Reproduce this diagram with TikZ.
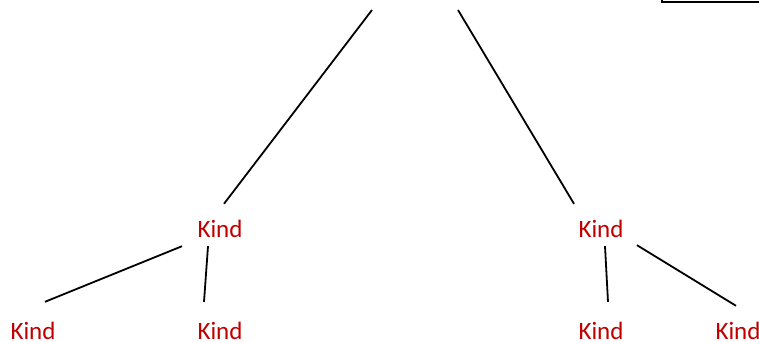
\documentclass[tikz,border=0pt]{standalone}
\usepackage{fontspec}
\setmainfont{Carlito}
\usetikzlibrary{positioning}
\definecolor{kindred}{HTML}{C00000}
\tikzset{line width=1.8pt,
  kind/.style={text=kindred,font=\fontsize{25}{30}\selectfont,inner sep=0pt,
    anchor=base,text height=33pt,text depth=9pt},
  kindleaf/.style={kind,text depth=2pt},
  branch/.style={draw=black,line width=1.8pt}}
\begin{document}
\begin{tikzpicture}[x=1pt,y=-1pt]
\useasboundingbox(0,0)rectangle(759,342);\clip(0,0)rectangle(759,342);
\coordinate(topl)at(372,10);\coordinate(topr)at(458,10);
\draw[line width=1.8pt](662,-20)rectangle(800,2);
\node[kind](kl)at(220,237){Kind};\node[kind](kr)at(601,237){Kind};
\node[kindleaf](kll)at(33,339){Kind};\node[kindleaf](klr)at(220,339){Kind};
\node[kindleaf](krl)at(601,339){Kind};\node[kindleaf](krr)at(738,339){Kind};
\draw[branch](topl)--([xshift=4pt]kl.north);\draw[branch](topr)--([xshift=-27pt]kr.north);
\draw[branch]([xshift=-38pt]kl.south)--([xshift=12pt,yshift=4pt]kll.north);
\draw[branch]([xshift=-12pt]kl.south)--([xshift=-16pt,yshift=4pt]klr.north);
\draw[branch]([xshift=4pt]kr.south)--([xshift=7pt,yshift=4pt]krl.north);
\draw[branch]([xshift=36pt,yshift=1pt]kr.south)--([xshift=-2pt]krr.north);
\end{tikzpicture}
\end{document}
